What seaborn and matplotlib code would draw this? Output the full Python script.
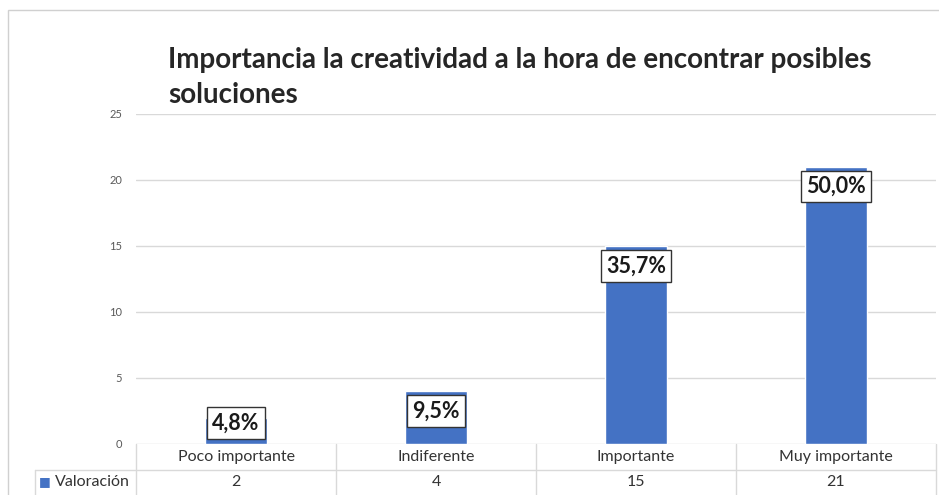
import matplotlib
matplotlib.use('Agg')
import matplotlib.pyplot as plt
import matplotlib.transforms as mtransforms
from matplotlib.patches import Rectangle
import seaborn as sns
import pandas as pd

# Data
categories = ['Poco importante', 'Indiferente', 'Importante', 'Muy importante']
valores = [2, 4, 15, 21]
porcentajes = ['4,8%', '9,5%', '35,7%', '50,0%']
serie = 'Valoración'
titulo = 'Importancia la creatividad a la hora de encontrar posibles\nsoluciones'

sns.set_style('white')
plt.rcParams['font.family'] = ['Lato', 'DejaVu Sans']

W, H = 939, 495
fig = plt.figure(figsize=(W / 100, H / 100), dpi=100)
ax = fig.add_axes([136 / W, 51 / H, 800 / W, 330 / H])

df = pd.DataFrame({'cat': categories, 'val': valores})
sns.barplot(data=df, x='cat', y='val', color='#4472C4', width=0.31,
            saturation=1, ax=ax, zorder=3)

ax.set_ylim(0, 25)
ax.set_xlim(-0.5, 3.5)
ax.set_yticks(range(0, 26, 5))
ax.tick_params(axis='y', length=0, labelsize=8, labelcolor='#595959', pad=10)
ax.set_xticks([])
ax.set_xlabel('')
ax.set_ylabel('')
ax.yaxis.grid(True, color='#d9d9d9', linewidth=1)
ax.set_axisbelow(True)
for s in ax.spines.values():
    s.set_visible(False)

# percentage labels inside the top of each bar (kept above the baseline)
for i, (v, p) in enumerate(zip(valores, porcentajes)):
    yc = max(v - 1.5, 1.6)
    ax.text(i, yc, p, ha='center', va='center', fontsize=15.5, fontweight='bold',
            color='#1a1a1a', zorder=5,
            bbox=dict(boxstyle='square,pad=0.25', fc='white', ec='#333333', lw=1))

# data table under the plot
trans = mtransforms.blended_transform_factory(ax.transData, ax.transAxes)
row1 = -26 / 330
bottom = -60 / 330
line_kw = dict(color='#d9d9d9', lw=1, transform=trans, clip_on=False)
ax.plot([-1.005, 3.5], [row1, row1], **line_kw)
for xv in [-0.5, 0.5, 1.5, 2.5, 3.5]:
    ax.plot([xv, xv], [0, bottom], **line_kw)
ax.plot([-1.005, -1.005], [row1, bottom], **line_kw)

for i, (c, v) in enumerate(zip(categories, valores)):
    ax.text(i, row1 / 2, c, ha='center', va='center', fontsize=11.5,
            color='#333333', transform=trans)
    ax.text(i, -38 / 330, str(v), ha='center', va='center', fontsize=11.5,
            color='#333333', transform=trans)

ax.text(-0.985, -38 / 330, '■', ha='left', va='center', fontsize=9,
        color='#4472C4', transform=trans, family=['DejaVu Sans'])
ax.text(-0.905, -38 / 330, serie, ha='left', va='center', fontsize=11.5,
        color='#333333', transform=trans)

# title
fig.text(168 / W, 1 - 47 / H, titulo, ha='left', va='top', fontsize=20,
         fontweight='bold', color='#262626', linespacing=1.45)

# outer chart frame
fig.patches.append(Rectangle((8 / W, -0.1), 2, 1 - 10 / H + 0.1,
                             transform=fig.transFigure, fill=False,
                             edgecolor='#d0d0d0', lw=1))

fig.savefig('out.png', dpi=100)
